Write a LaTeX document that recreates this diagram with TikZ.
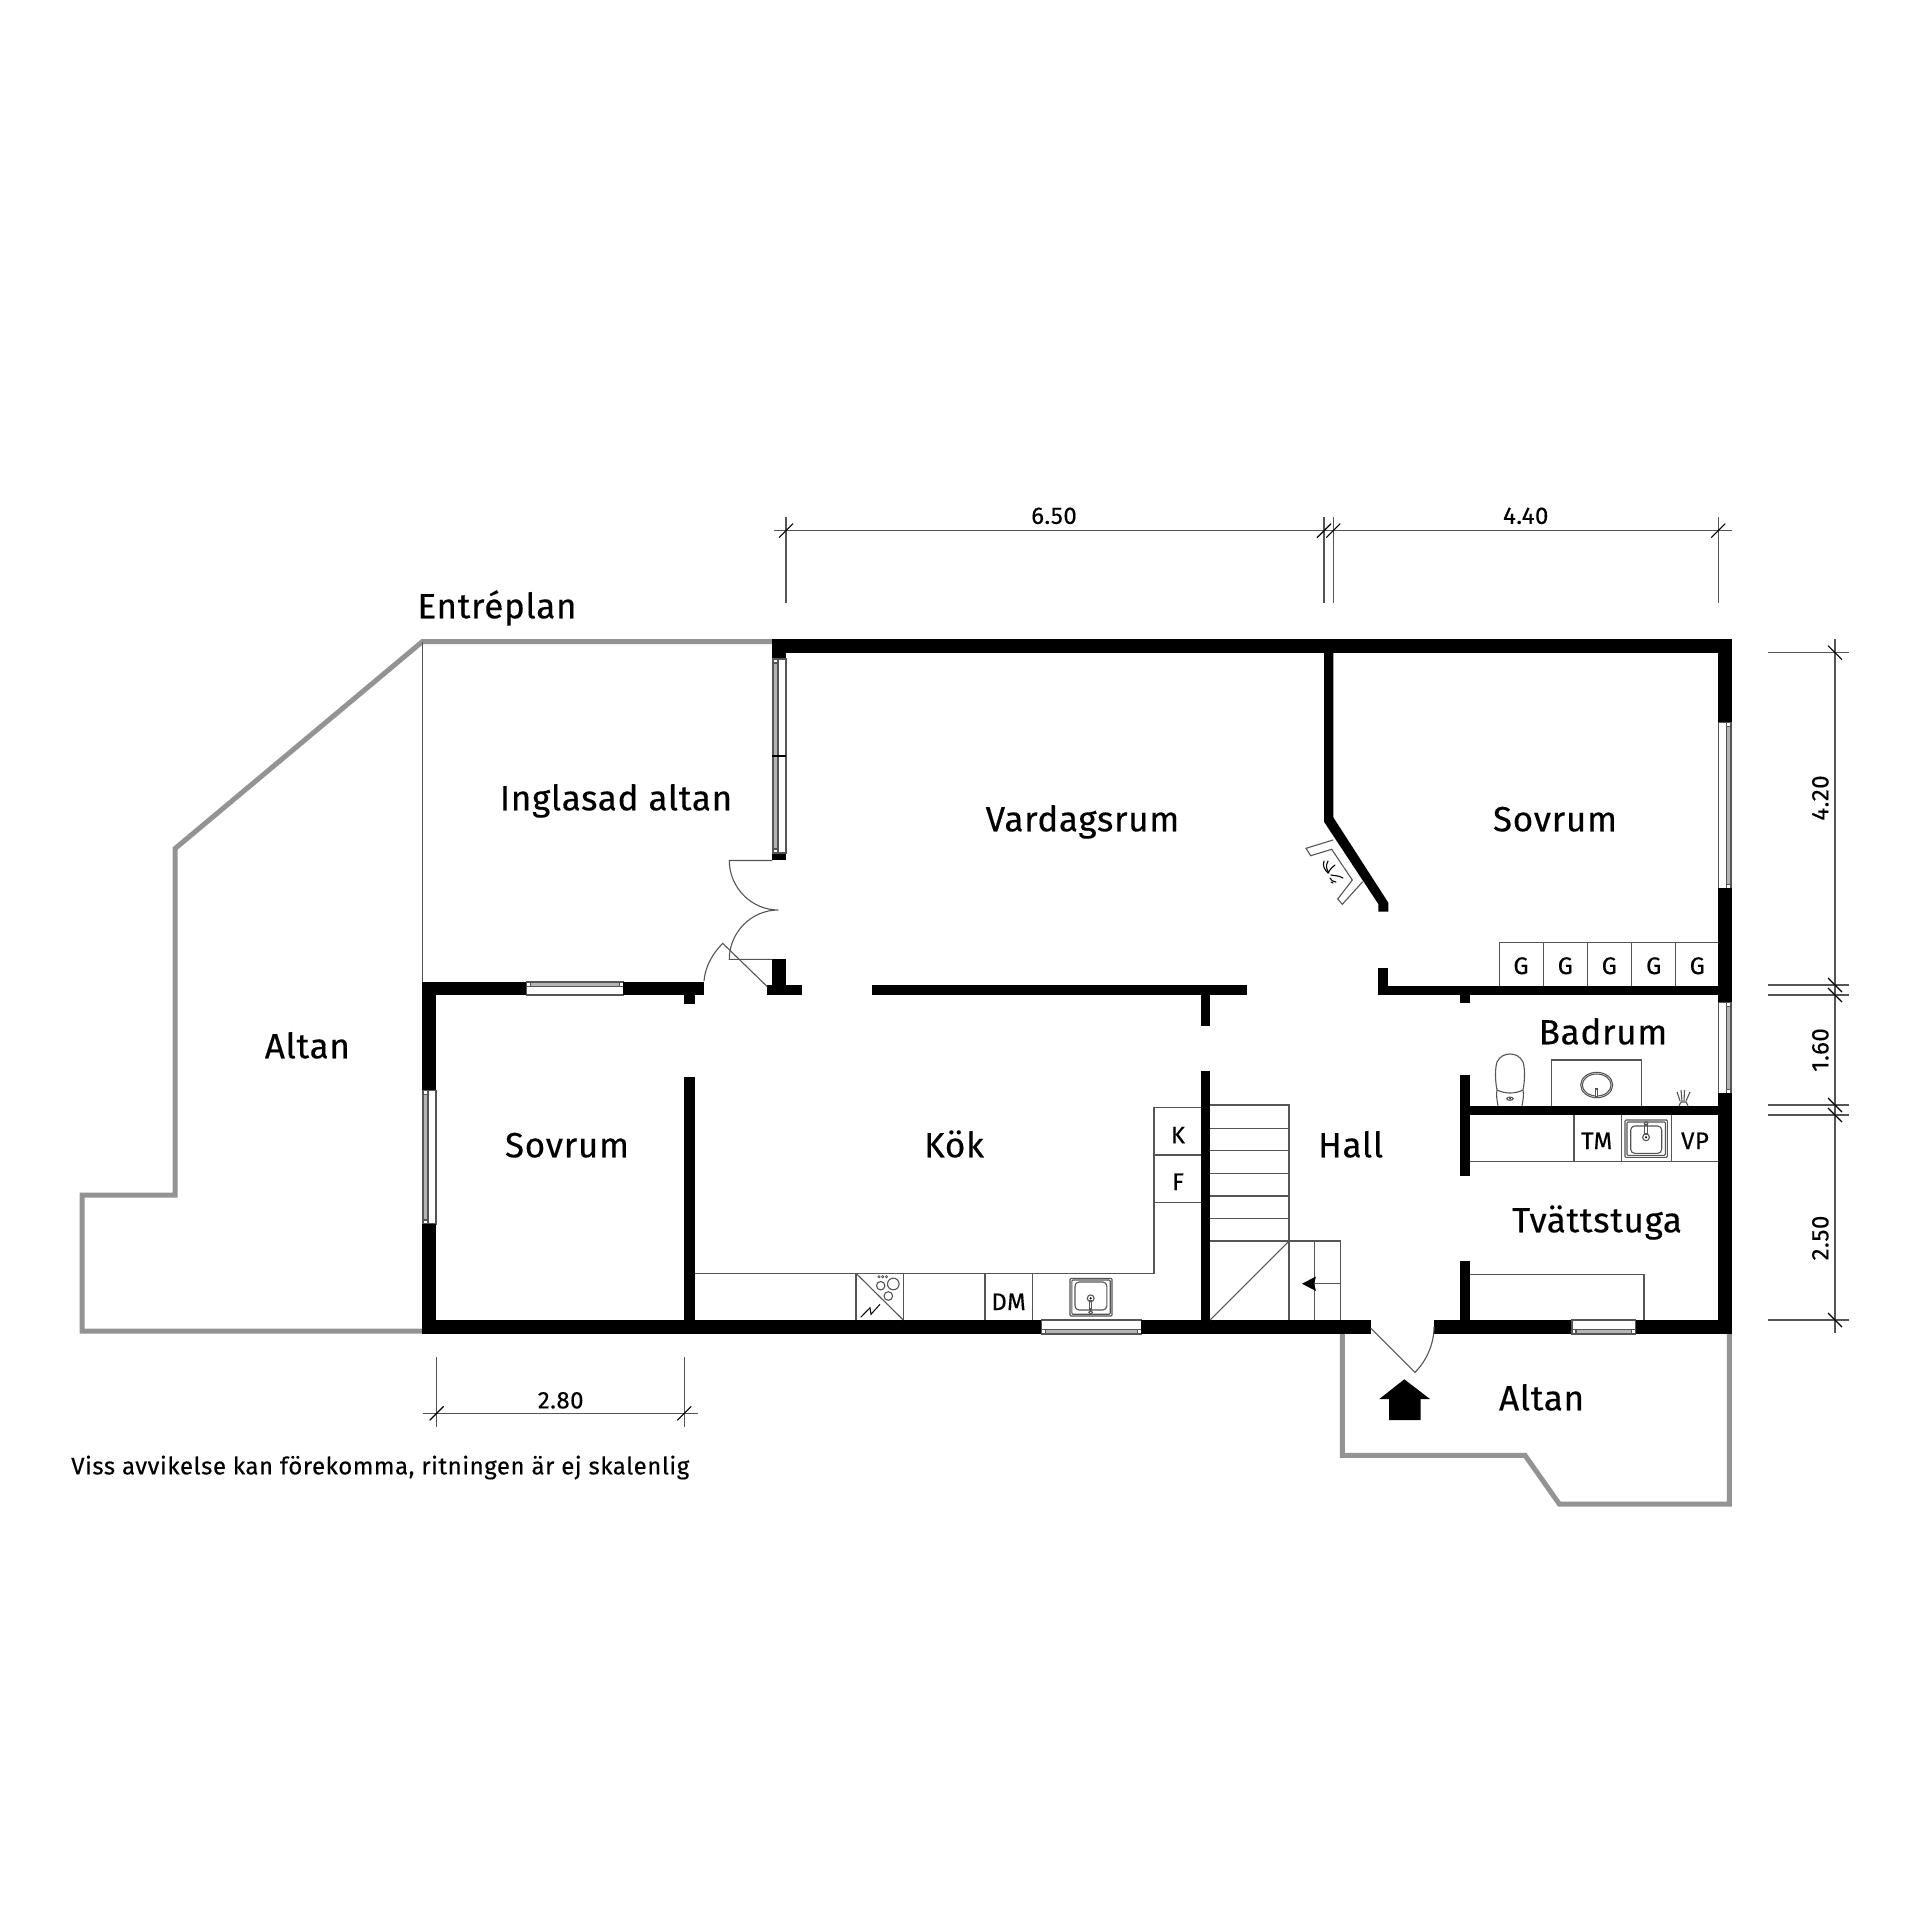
\documentclass[tikz,border=0pt]{standalone}
\usepackage{fontspec}
\setmainfont{Fira Sans}[LetterSpace=2,FakeBold=0.35]
\newcommand\wl[4]{\fill[black] (#1,#2) rectangle (#3,#4);}
% vertical window: wall x1..x2, y1..y2, glazing strip sx1..sx2
\newcommand\winv[6]{\draw[thinl,fill=white] (#1,#3) rectangle (#2,#4);
  \draw[thinl,fill=glass] (#5,#3+4) rectangle (#6,#4-4);
  \draw[thinl,fill=white] (#5,#3) rectangle (#6,#3+4);
  \draw[thinl,fill=white] (#5,#4-4) rectangle (#6,#4);}
\newcommand\winh[6]{\draw[thinl,fill=white] (#1,#3) rectangle (#2,#4);
  \draw[thinl,fill=glass] (#1+4,#5) rectangle (#2-4,#6);
  \draw[thinl,fill=white] (#1,#5) rectangle (#1+4,#6);
  \draw[thinl,fill=white] (#2-4,#5) rectangle (#2,#6);}
\definecolor{glass}{HTML}{B4B4B4}
\definecolor{terr}{HTML}{939393}
\definecolor{ln}{HTML}{555555}
\tikzset{
  thinl/.style={draw=ln,line width=1.1pt},
  dimline/.style={draw=ln,line width=1.2pt},
  tickm/.style={draw=black,line width=1.1pt},
  flame/.style={draw=black,line width=1.1pt,line cap=round},
  terrace/.style={draw=terr,line width=5pt,miter limit=10},
  room/.style={font=\fontsize{35}{40}\selectfont,text=black,inner sep=0pt,text height=24.5pt,text depth=0pt},
  fit2/.style={font=\fontsize{24}{27}\selectfont,text=black,inner sep=0pt,text height=16.7pt,text depth=0pt},
  small/.style={font=\fontsize{24}{28}\selectfont,text=black,inner sep=0pt,text height=16.7pt,text depth=0pt},
}
\begin{document}
\begin{tikzpicture}[x=1pt,y=-1pt]
\useasboundingbox (0,0) rectangle (1920,1920);
\fill[white] (0,0) rectangle (1920,1920);
% terraces
\draw[terrace] (772,641.5) -- (422.5,641.5) -- (175,848.6) -- (175,1195) -- (82,1195) -- (82,1331) -- (424,1331);
\draw[terrace] (1342.3,1334) -- (1342.3,1455.3) -- (1525,1455.3) -- (1559.3,1504) -- (1729.3,1504) -- (1729.3,1334);
\draw[thinl] (422.5,641.5) -- (422.5,982);
% outer walls
\wl{772.3}{639}{1731.7}{652.7}
\wl{772.3}{639}{786}{659}
\wl{772.3}{853}{786}{860}
\winv{772.3}{786}{659}{853}{773.5}{778}
\wl{772.3}{754.7}{786}{757.3}
\wl{1718.3}{639}{1731.7}{722.5}
\winv{1718.3}{1731.7}{722.5}{888.3}{1726.5}{1731}
\wl{1718.3}{888.3}{1731.7}{1002.7}
\winv{1718.3}{1731.7}{1002.7}{1093.3}{1726.5}{1731}
\wl{1718.3}{1093.3}{1731.7}{1334}
\wl{422.3}{981.7}{436}{1090.7}
\winv{422.3}{436}{1090.7}{1224}{423.5}{428}
\wl{422.3}{1224}{436}{1334}
\wl{422.3}{981.7}{526.7}{995}
\winh{526.7}{623.3}{981.7}{995}{982.5}{986.5}
\wl{623.3}{981.7}{704}{995}
\wl{684.3}{995}{694.7}{1004}
\wl{684.3}{1077.3}{694.7}{1320}
\wl{422.3}{1320}{1041.4}{1334}
\winh{1041.4}{1141.4}{1320}{1334}{1329.5}{1333.5}
\wl{1141.4}{1320}{1370.7}{1334}
\wl{1434}{1320}{1572}{1334}
\winh{1572}{1635.7}{1320}{1334}{1329.5}{1333.5}
\wl{1635.7}{1320}{1731.7}{1334}
% inner walls
\wl{772.3}{959.3}{786}{985}
\wl{767.3}{985}{802.3}{995}
\wl{871.7}{985}{1247}{995}
\wl{1200.5}{995}{1210}{1026}
\wl{1200.5}{1071}{1210}{1320}
\fill[black] (1324,652) -- (1333.3,652) -- (1333.3,817.3) -- (1388.3,902.7) -- (1388.3,911.7) -- (1378.3,911.7) -- (1378.3,904) -- (1324,821.7) -- cycle;
\wl{1378.3}{967.7}{1388.3}{995}
\wl{1378.3}{986}{1718.3}{995}
\wl{1460}{995}{1470}{1003.3}
\wl{1460}{1075}{1470}{1176}
\wl{1470}{1105.7}{1718.3}{1115}
\wl{1460.3}{1260.7}{1470}{1320}
% doors
\draw[thinl] (772.3,860.5) -- (729.3,860.5) .. controls (729.3,887.5) and (751.3,910) .. (778.3,910) .. controls (751.3,910) and (729.3,932.3) .. (729.3,959.3) -- (772.3,959.3);
\draw[thinl] (767.3,986.7) -- (722.7,943.3) .. controls (712.5,953.7) and (705.2,966.4) .. (704,981);
\draw[thinl] (1370.7,1328) -- (1415,1372.3) .. controls (1426.7,1360.6) and (1434,1343.6) .. (1434,1327);
% entry arrow
\fill[black] (1404.3,1379.3) -- (1430,1399) -- (1420.7,1399) -- (1420.7,1420) -- (1389,1420) -- (1389,1399) -- (1379.3,1399) -- cycle;
% fireplace
\draw[thinl] (1333,840) -- (1306,848.3) -- (1310.7,855.7) -- (1331.7,849.3) -- (1352.3,880) -- (1337.7,899) -- (1342.3,904.3) -- (1362.7,881.7);
\draw[flame] (1324,861) .. controls (1322,866) and (1325,870) .. (1328,873);
\draw[flame] (1328,861) .. controls (1325,866) and (1327,870) .. (1329,873);
\draw[flame] (1335,865) .. controls (1331,868) and (1329,871) .. (1328,873);
\draw[flame] (1343,878) .. controls (1338,875) and (1334,876) .. (1331,875);
\draw[flame] (1336,882) .. controls (1333,882) and (1331,880) .. (1330,878);
\draw[flame] (1331,882) -- (1333,883);
% wardrobes
\draw[thinl] (1499.3,986) -- (1499.3,942.3) -- (1718.3,942.3);
\foreach \xx in {1543.3,1587.3,1631.3,1675.3}{\draw[thinl] (\xx,942.3) -- (\xx,986);}
\node[small] (g1) at (1521,965.7) {G};
\node[small] (g2) at (1565.3,965.7) {G};
\node[small] (g3) at (1609.3,965.7) {G};
\node[small] (g4) at (1653.7,965.7) {G};
\node[small] (g5) at (1697.3,965.7) {G};
% laundry counter
\draw[thinl] (1470,1161.7) -- (1718.3,1161.7);
\draw[thinl] (1574,1115) -- (1574,1161.7);
\draw[thinl] (1621.3,1115) -- (1621.3,1161.7);
\draw[thinl] (1671.3,1115) -- (1671.3,1161.7);
\node[small] (tm) at (1596.7,1140.7) {TM};
\node[small] (vp) at (1695,1140.7) {VP};
\draw[thinl,rounded corners=1pt] (1625,1120) rectangle (1667.3,1157.3);
\draw[thinl,rounded corners=1pt] (1627,1122) rectangle (1665.3,1155.3);
\draw[thinl,rounded corners=4pt] (1630.7,1126) rectangle (1661.7,1153.3);
\draw[thinl,fill=white] (1646,1137.3) circle (3.4);
\fill[black] (1646,1137.3) circle (1.2);
\draw[thinl] (1644.8,1125) rectangle (1647.2,1134);
\draw[thinl,fill=white] (1646,1123.3) circle (1.8);
% second counter in the laundry room
\draw[thinl] (1470,1274.3) -- (1644,1274.3) -- (1644,1320);
% bathroom fixtures
\draw[thinl] (1551.7,1105.7) -- (1551.7,1060) -- (1641.3,1060) -- (1641.3,1105.7);
\draw[thinl] (1596.7,1085) ellipse (16 and 12.7);
\draw[thinl] (1596.7,1085) ellipse (14.4 and 11);
\draw[thinl,fill=white] (1595.7,1089) rectangle (1597.8,1097);
\draw[thinl] (1498,1105.7) .. controls (1497,1100) and (1496,1095) .. (1497,1090) .. controls (1495,1080) and (1495,1068) .. (1497,1062) .. controls (1500,1056) and (1505,1054) .. (1510,1054) .. controls (1515,1054) and (1520,1056) .. (1523,1062) .. controls (1525,1068) and (1525,1080) .. (1523,1090) .. controls (1524,1095) and (1523,1100) .. (1522,1105.7);
\draw[thinl] (1497,1090) .. controls (1505,1094) and (1515,1094) .. (1523,1090);
\draw[thinl] (1510,1098.7) ellipse (3.2 and 1.6);
\fill[black] (1510,1098.7) circle (0.8);
\draw[thinl] (1680,1101) -- (1677,1092);
\draw[thinl] (1682,1101) -- (1681,1090);
\draw[thinl] (1684,1101) -- (1684.5,1090);
\draw[thinl] (1686,1101) -- (1690,1092);
\draw[thinl] (1679,1105.7) -- (1681,1102) -- (1686,1102) -- (1688,1105.7);
% kitchen
\draw[thinl] (694.7,1273.3) -- (1154,1273.3) -- (1154,1107.3) -- (1200.5,1107.3);
\draw[thinl] (1154,1155) -- (1200.5,1155);
\draw[thinl] (1154,1202.3) -- (1200.5,1202.3);
\node[small] (k) at (1178,1135) {K};
\node[small] (f) at (1178,1181.7) {F};
\draw[thinl] (856,1273.3) -- (856,1320);
\draw[thinl] (903.3,1273.3) -- (903.3,1320);
\draw[thinl] (856,1273.3) -- (903.3,1320);
\draw[thinl] (893.3,1284) circle (5.8);
\draw[thinl] (880.7,1285.7) circle (4.2);
\draw[thinl] (888.3,1296) circle (4.3);
\foreach \xx in {879,882.7,886.5}{\draw[thinl,line width=.7pt] (\xx,1276.7) circle (1.2);}
\draw[black,line width=1pt] (860.7,1317.3) -- (870,1307.7) -- (871,1314.3) -- (880,1304.3);
\draw[thinl] (985,1273.3) -- (985,1320);
\draw[thinl] (1032.5,1273.3) -- (1032.5,1320);
\node[small] (dm) at (1008.6,1301.7) {DM};
\draw[thinl,rounded corners=1pt] (1070,1278.3) rectangle (1112,1316);
\draw[thinl,rounded corners=1pt] (1071.8,1280) rectangle (1110.2,1314.2);
\draw[thinl,rounded corners=4pt] (1075,1282) rectangle (1106.8,1310);
\draw[thinl,fill=white] (1090.7,1298.3) circle (3.4);
\fill[black] (1090.7,1298.3) circle (1.2);
\draw[thinl] (1089.5,1301) rectangle (1091.9,1309);
\draw[thinl,fill=white] (1090.7,1312.3) circle (1.8);
% stairs
\draw[thinl] (1210,1105) -- (1289,1105) -- (1289,1320);
\foreach \yy in {1128.3,1150.7,1173.3,1196,1218.3}{\draw[thinl] (1210,\yy) -- (1289,\yy);}
\draw[thinl] (1210,1241) -- (1340.4,1241) -- (1340.4,1320);
\draw[thinl] (1210,1320) -- (1289,1241);
\draw[thinl] (1314.6,1241) -- (1314.6,1320);
\draw[thinl] (1312,1283.7) -- (1340.4,1283.7);
\fill[black] (1302,1283.7) -- (1316,1276.5) -- (1314,1283.7) -- (1316,1291) -- cycle;
% dimensions
\draw[dimline] (774,530.7) -- (1731.6,530.7);
\foreach \xx in {786,1324,1333.2,1718.2}{
  \draw[dimline] (\xx,517) -- (\xx,603);
  \draw[tickm] (\xx-7,537.7) -- (\xx+7,523.7);}
\node[fit2] (d650) at (1054,515.5) {6.50};
\node[fit2] (d440) at (1525.7,515.5) {4.40};
\draw[dimline] (1835,639) -- (1835,1333);
\foreach \yy in {652.7,985,995,1105,1115,1320}{
  \draw[dimline] (1768,\yy) -- (1848.5,\yy);
  \draw[tickm] (1828,\yy-7) -- (1842,\yy+7);}
\node[fit2,rotate=90] (d420) at (1820,798) {4.20};
\node[fit2,rotate=90] (d160) at (1820,1050) {1.60};
\node[fit2,rotate=90] (d250) at (1820,1238) {2.50};
\draw[dimline] (422.7,1413.3) -- (698.3,1413.3);
\foreach \xx in {436.7,684.3}{
  \draw[dimline] (\xx,1357.3) -- (\xx,1427.3);
  \draw[tickm] (\xx-7,1420.3) -- (\xx+7,1406.3);}
\node[fit2] (d280) at (560.7,1400) {2.80};
% labels
\node[room] (l0) at (497,606) {Entréplan};
\node[room] (l1) at (616,798) {Inglasad altan};
\node[room] (l2) at (1082.5,819) {Vardagsrum};
\node[room] (l3) at (1555,819) {Sovrum};
\node[room] (l4) at (307.4,1046) {Altan};
\node[room] (l5) at (567,1145) {Sovrum};
\node[room] (l6) at (954,1145) {Kök};
\node[room] (l7) at (1350.6,1145) {Hall};
\node[room] (l8) at (1603,1032) {Badrum};
\node[room] (l9) at (1597,1220) {Tvättstuga};
\node[room] (l10) at (1541.6,1398) {Altan};
\node[small,anchor=west] (note) at (71,1466) {\addfontfeature{LetterSpace=2.3}Viss avvikelse kan förekomma, ritningen är ej skalenlig};
\end{tikzpicture}
\end{document}
